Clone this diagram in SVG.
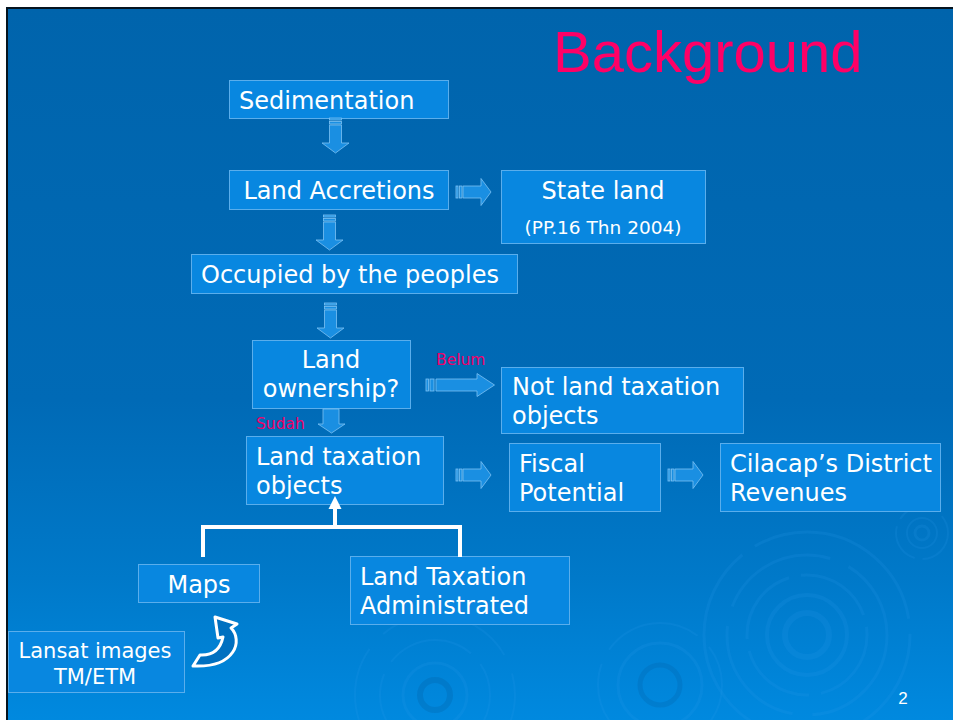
<svg xmlns="http://www.w3.org/2000/svg" width="953" height="720" viewBox="0 0 953 720">
<defs>
<linearGradient id="bg" x1="0" y1="0" x2="0" y2="1">
<stop offset="0" stop-color="#0064AC"/>
<stop offset="0.55" stop-color="#006AB6"/>
<stop offset="0.8" stop-color="#0079C9"/>
<stop offset="1" stop-color="#0089DF"/>
</linearGradient>
<style>
.box{fill:#0887E0;stroke:#5AAEEC;stroke-width:1}
.t{font-family:"DejaVu Sans",Verdana,sans-serif;font-size:24px;fill:#FFFFFF}
.tc{text-anchor:middle}
.small{font-size:18.5px}
.lan{font-size:21px}
.pink{font-family:"DejaVu Sans",Verdana,sans-serif;font-size:15.5px;fill:#F0006A}
.arr{fill:#1A8FE2;stroke:#7CC2F4;stroke-width:0.8}
.rip{fill:none;stroke:#2A9BEA;stroke-opacity:0.16}
</style>
<g id="sarrow">
<rect class="arr" x="0" y="-6" width="2" height="12"/>
<rect class="arr" x="3.5" y="-6" width="2.5" height="12"/>
<path class="arr" d="M7 -6 H25 V-13.5 L35 0 L25 13.5 V6 H7 Z"/>
</g>
</defs>
<rect x="0" y="0" width="953" height="720" fill="#FFFFFF"/>
<rect x="6" y="7" width="947" height="713" fill="#05141F"/>
<rect x="8" y="9" width="945" height="711" fill="url(#bg)"/>
<g id="ripples">
<circle class="rip" cx="807" cy="635" r="22" stroke-width="6"/>
<circle class="rip" cx="807" cy="635" r="40" stroke-width="4"/>
<circle class="rip" cx="807" cy="635" r="60" stroke-width="3" stroke-dasharray="80 12"/>
<circle class="rip" cx="807" cy="635" r="80" stroke-width="3" stroke-dasharray="120 20"/>
<circle class="rip" cx="807" cy="635" r="103" stroke-width="3" stroke-dasharray="200 15"/>
<circle class="rip" cx="922" cy="533" r="7" stroke-width="3"/>
<circle class="rip" cx="922" cy="533" r="15" stroke-width="2"/>
<circle class="rip" cx="922" cy="533" r="26" stroke-width="2" stroke-dasharray="40 8"/>
<circle cx="435" cy="695" r="15" stroke-width="6" fill="none" stroke="#0062A8" stroke-opacity="0.3"/>
<circle class="rip" cx="435" cy="695" r="32" stroke-width="3"/>
<circle class="rip" cx="435" cy="695" r="55" stroke-width="2" stroke-dasharray="90 14"/>
<circle class="rip" cx="435" cy="695" r="80" stroke-width="2" stroke-dasharray="140 20"/>
<circle cx="660" cy="685" r="20" stroke-width="5" fill="none" stroke="#0066B0" stroke-opacity="0.3"/>
<circle class="rip" cx="660" cy="685" r="42" stroke-width="3"/>
<circle class="rip" cx="660" cy="685" r="62" stroke-width="2" stroke-dasharray="100 16"/>
</g>
<text x="553" y="72" font-family="'Liberation Sans',Arial,sans-serif" font-size="58" fill="#FF0066">Background</text>
<g id="sedimentation">
<rect class="box" x="229.5" y="80.5" width="219" height="38"/>
<text class="t" x="239" y="109">Sedimentation</text>
</g>
<g id="land-accretions">
<rect class="box" x="229.5" y="170.5" width="219" height="39"/>
<text class="t tc" x="339" y="199">Land Accretions</text>
</g>
<g id="state-land">
<rect class="box" x="501.5" y="170.5" width="204" height="73"/>
<text class="t tc" x="603" y="199">State land</text>
<text class="t tc small" x="603" y="234">(PP.16 Thn 2004)</text>
</g>
<g id="occupied">
<rect class="box" x="191.5" y="254.5" width="326" height="39"/>
<text class="t" x="201" y="283">Occupied by the peoples</text>
</g>
<g id="land-ownership">
<rect class="box" x="252.5" y="340.5" width="158" height="68"/>
<text class="t tc" x="331" y="368">Land</text>
<text class="t tc" x="331" y="397">ownership?</text>
</g>
<text class="pink" x="436" y="365">Belum</text>
<text class="pink" x="256" y="429">Sudah</text>
<g id="not-land-taxation">
<rect class="box" x="501.5" y="367.5" width="242" height="66"/>
<text class="t" x="512" y="395">Not land taxation</text>
<text class="t" x="512" y="424">objects</text>
</g>
<g id="land-taxation-objects">
<rect class="box" x="246.5" y="436.5" width="197" height="68"/>
<text class="t" x="256" y="465">Land taxation</text>
<text class="t" x="256" y="494">objects</text>
</g>
<g id="fiscal-potential">
<rect class="box" x="509.5" y="443.5" width="151" height="68"/>
<text class="t" x="519" y="472">Fiscal</text>
<text class="t" x="519" y="501">Potential</text>
</g>
<g id="cilacap">
<rect class="box" x="720.5" y="443.5" width="220" height="68"/>
<text class="t" x="730" y="472">Cilacap’s District</text>
<text class="t" x="730" y="501">Revenues</text>
</g>
<g id="maps">
<rect class="box" x="138.5" y="564.5" width="121" height="38"/>
<text class="t tc" x="199" y="593">Maps</text>
</g>
<g id="land-taxation-administrated">
<rect class="box" x="350.5" y="556.5" width="219" height="68"/>
<text class="t" x="360" y="585">Land Taxation</text>
<text class="t" x="360" y="614">Administrated</text>
</g>
<g id="lansat">
<rect class="box" x="8.5" y="631.5" width="176" height="61"/>
<text class="t tc lan" x="95" y="658">Lansat images</text>
<text class="t tc lan" x="95" y="684">TM/ETM</text>
</g>
<g id="connectors">
<use href="#sarrow" transform="translate(335.5,118) rotate(90)"/>
<use href="#sarrow" transform="translate(329.5,215) rotate(90)"/>
<use href="#sarrow" transform="translate(330.5,303) rotate(90)"/>
<path class="arr" d="M323 409 V424 H318 L331.5 433 L345 424 H339 V409 Z"/>
<use href="#sarrow" transform="translate(456,192)"/>
<g>
<rect class="arr" x="426" y="379" width="2.5" height="12"/>
<rect class="arr" x="430" y="379" width="4" height="12"/>
<path class="arr" d="M436 379 H477 V373.5 L494.5 385 L477 396.5 V391 H436 Z"/>
</g>
<use href="#sarrow" transform="translate(456,475)"/>
<use href="#sarrow" transform="translate(668,475)"/>
<path d="M203 557 V527 H460 V557 M335 527 V507" fill="none" stroke="#FFFFFF" stroke-width="4"/>
<polygon points="328.5,509 341.5,509 335,496" fill="#FFFFFF"/>
<path d="M193 666 L200 655 Q219 656 223 637 L218 638 L215 617 L237 624 L231 628 C243 640 236 668 193 666 Z" fill="#0070C0" stroke="#FFFFFF" stroke-width="3" stroke-linejoin="round"/>
</g>
<text x="903" y="704" font-family="'Liberation Sans',Arial,sans-serif" font-size="17" fill="#FFFFFF" text-anchor="middle">2</text>
</svg>
